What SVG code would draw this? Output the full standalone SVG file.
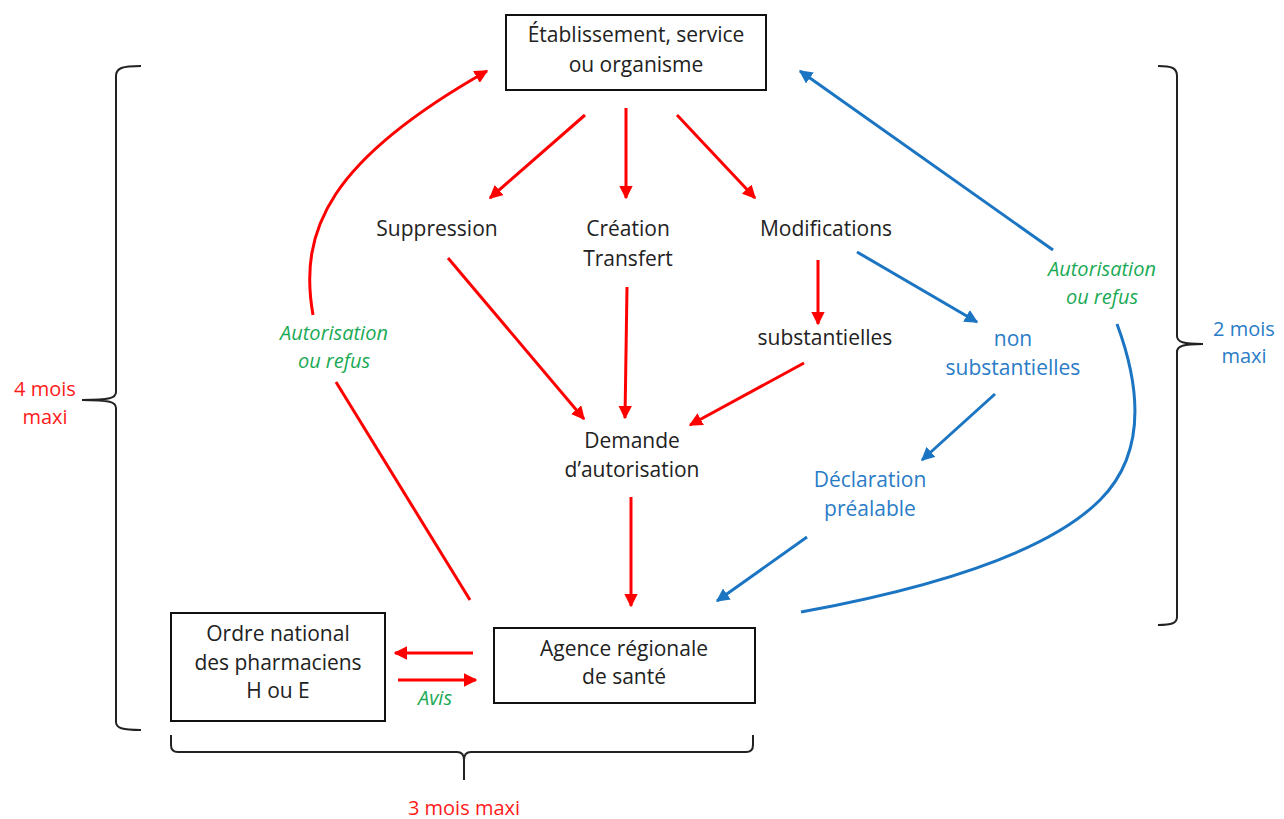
<svg xmlns="http://www.w3.org/2000/svg" width="1284" height="819" viewBox="0 0 1284 819">
<style>
text{font-family:"Open Sans",Lato,"Liberation Sans",sans-serif;font-size:21px;text-anchor:middle;fill:#222}
.box{fill:#fff;stroke:#111;stroke-width:2}
.r{stroke:#ff0000;stroke-width:3;fill:none}
.b{stroke:#1b75c2;stroke-width:3;fill:none}
.ra{marker-end:url(#ar)}
.ba{marker-end:url(#ab)}
.brace{stroke:#222;stroke-width:2;fill:none}
.blue{fill:#2a7cc7}
.red{fill:#ff1a1a}
.green{fill:#1aaa55;font-style:italic}
#labels text{font-size:20px}
</style>
<defs>
<marker id="ar" viewBox="0 0 10 10" refX="9" refY="5" markerWidth="4.5" markerHeight="4.5" orient="auto" markerUnits="strokeWidth"><path d="M0,0 L10,5 L0,10 z" fill="#ff0000"/></marker>
<marker id="ab" viewBox="0 0 10 10" refX="9" refY="5" markerWidth="4.5" markerHeight="4.5" orient="auto" markerUnits="strokeWidth"><path d="M0,0 L10,5 L0,10 z" fill="#1b75c2"/></marker>
</defs>
<rect width="1284" height="819" fill="#fff"/>
<g id="connectors">
<line class="r ra" x1="585" y1="115" x2="490" y2="198"/>
<line class="r ra" x1="626" y1="108" x2="626" y2="198"/>
<line class="r ra" x1="677" y1="115" x2="755" y2="198"/>
<line class="r ra" x1="818" y1="260" x2="818" y2="324"/>
<line class="r ra" x1="448" y1="258" x2="584" y2="419"/>
<line class="r ra" x1="627" y1="287" x2="625" y2="418"/>
<line class="r ra" x1="804" y1="363" x2="690" y2="425"/>
<line class="r ra" x1="631" y1="497" x2="631" y2="606"/>
<line class="r ra" x1="473" y1="653" x2="395" y2="653"/>
<line class="r ra" x1="398" y1="680" x2="476" y2="680"/>
<line class="r" x1="470" y1="600" x2="336" y2="382"/>
<path class="r ra" d="M313,315 C298,230 330,160 487,71"/>
<line class="b ba" x1="857" y1="252" x2="977" y2="322"/>
<line class="b ba" x1="995" y1="394" x2="922" y2="460"/>
<line class="b ba" x1="807" y1="537" x2="717" y2="601"/>
<path class="b" d="M1117,324 Q1160,440 1100,500 Q1030,570 801,612"/>
<line class="b ba" x1="1053" y1="250" x2="800" y2="71"/>
</g>
<g id="braces">
<path class="brace" d="M141,66 C122,66 116,68 116,76 L116,392 C116,398 110,400 82,400 C110,400 116,402 116,408 L116,722 C116,728 122,730 141,730"/>
<path class="brace" d="M1158,66 C1172,66 1177,68 1177,76 L1177,336 C1177,342 1183,344 1203,344 C1183,344 1177,346 1177,352 L1177,617 C1177,623 1172,625 1158,625"/>
<path class="brace" d="M171,735 L171,745 Q171,752 178,752 L457,752 Q464,752 464,760 L464,780 M464,760 Q464,752 471,752 L746,752 Q753,752 753,745 L753,735"/>
</g>
<g id="etablissement">
<rect class="box" x="506" y="15" width="260" height="75"/>
<text x="636" y="42">Établissement, service</text>
<text x="636" y="72">ou organisme</text>
</g>
<g id="suppression"><text x="437" y="236">Suppression</text></g>
<g id="creation"><text x="628" y="236">Création</text><text x="628" y="266">Transfert</text></g>
<g id="modifications"><text x="826" y="236">Modifications</text></g>
<g id="substantielles"><text x="825" y="345">substantielles</text></g>
<g id="non-substantielles"><text class="blue" x="1013" y="346">non</text><text class="blue" x="1013" y="375">substantielles</text></g>
<g id="declaration"><text class="blue" x="870" y="487">Déclaration</text><text class="blue" x="870" y="516">préalable</text></g>
<g id="demande"><text x="632" y="448">Demande</text><text x="632" y="477">d’autorisation</text></g>
<g id="agence">
<rect class="box" x="494" y="628" width="261" height="75"/>
<text x="624" y="656">Agence régionale</text>
<text x="624" y="684">de santé</text>
</g>
<g id="ordre">
<rect class="box" x="171" y="613" width="214" height="108"/>
<text x="278" y="641">Ordre national</text>
<text x="278" y="670">des pharmaciens</text>
<text x="278" y="698">H ou E</text>
</g>
<g id="labels">
<text class="green" x="334" y="340">Autorisation</text>
<text class="green" x="334" y="368">ou refus</text>
<text class="green" x="1102" y="276">Autorisation</text>
<text class="green" x="1102" y="304">ou refus</text>
<text class="green" x="435" y="705">Avis</text>
<text class="red" x="45" y="396">4 mois</text>
<text class="red" x="45" y="424">maxi</text>
<text class="blue" x="1244" y="336">2 mois</text>
<text class="blue" x="1244" y="363">maxi</text>
<text class="red" x="464" y="815">3 mois maxi</text>
</g>
</svg>
